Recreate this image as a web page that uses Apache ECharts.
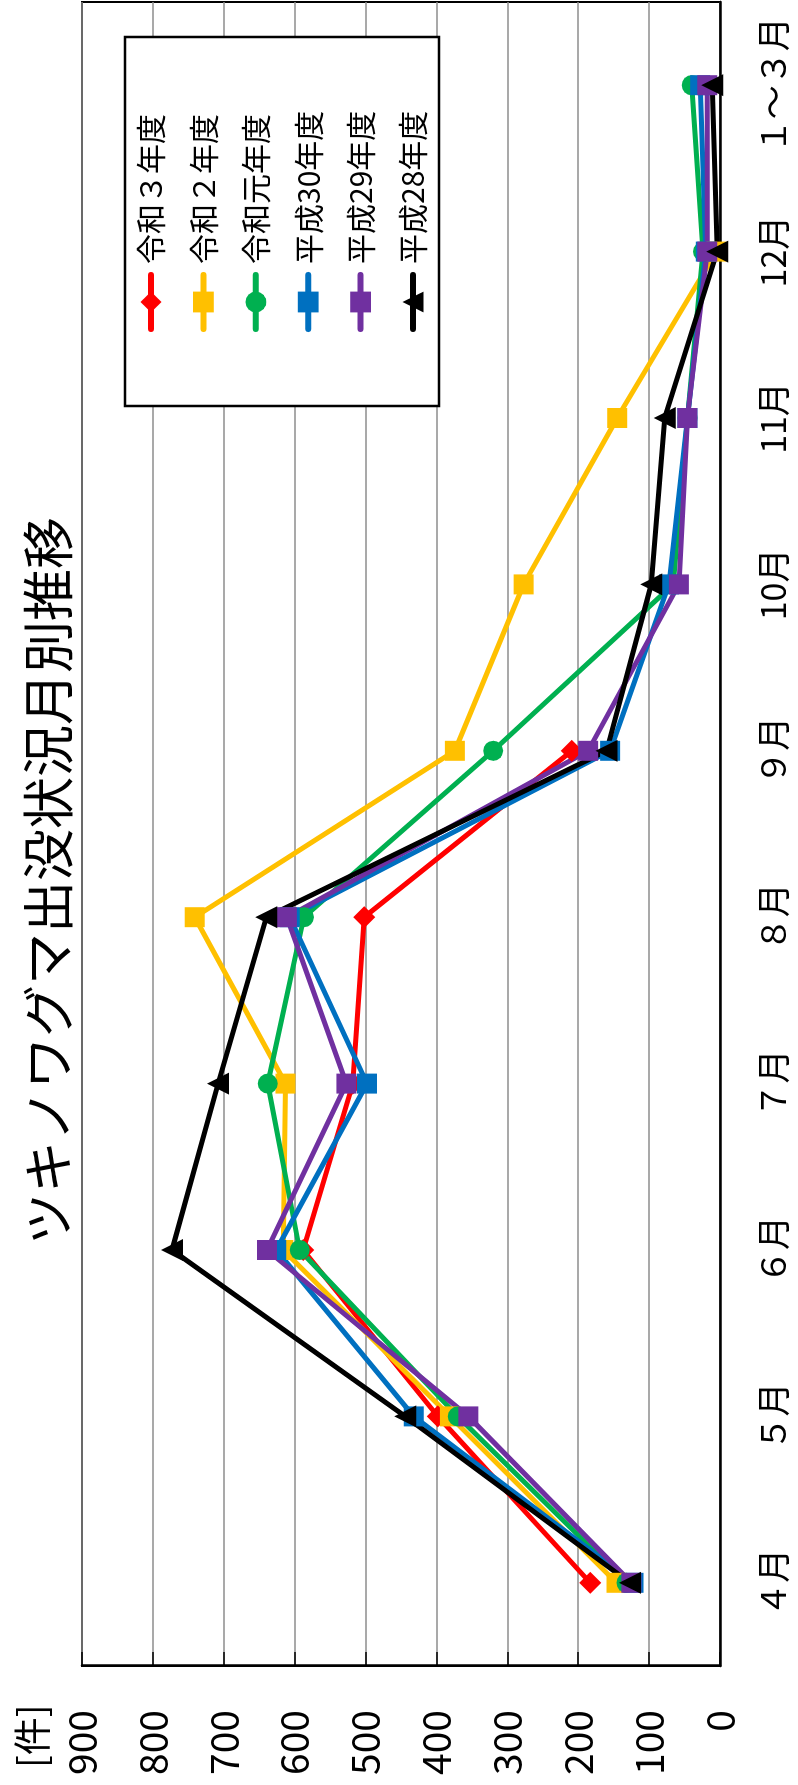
<!DOCTYPE html>
<html>
<head>
<meta charset="utf-8">
<script src="https://cdn.jsdelivr.net/npm/echarts@6/dist/echarts.min.js"></script>
<style>
  html, body { margin: 0; padding: 0; overflow: hidden; background: #fff; width: 798px; height: 1785px; }
  /* The chart is laid out landscape and turned a quarter turn to stand upright on the page. */
  #chart {
    position: absolute; left: 0; top: 1785px;
    width: 1785px; height: 798px;
    transform-origin: 0 0; transform: rotate(-90deg);
  }
</style>
</head>
<body>
<div id="chart"></div>
<script>
// Months of the fiscal year
const months = ['４月', '５月', '６月', '７月', '８月', '９月', '10月', '11月', '12月', '１～３月'];
// Series names
const seriesNames = ['令和３年度', '令和２年度', '令和元年度', '平成30年度', '平成29年度', '平成28年度'];
// Sightings per month [件]
const reiwa3   = [183, 398, 588, 518, 502, 209, null, null, null, null];
const reiwa2   = [146, 381, 616, 613, 741, 374, 277, 145, 5, null];
const reiwaGan = [132, 370, 593, 638, 587, 320, 66, 46, 24, 40];
const heisei30 = [122, 432, 626, 498, 607, 155, 72, 46, 20, 28];
const heisei29 = [125, 355, 639, 527, 611, 186, 58, 46, 18, 18];
const heisei28 = [127, 444, 773, 708, 640, 160, 97, 78, 4, 11];
// Value axis range
const axisMin = 0, axisMax = 900, axisStep = 100;

const FONT = '"Noto Sans CJK JP", "Noto Sans", sans-serif';
const colors = ['#FF0000', '#FFC000', '#00B050', '#0070C0', '#7030A0', '#000000'];
const symbols = ['diamond', 'rect', 'circle', 'rect', 'rect', 'triangle'];
const symbolSizes = [22, 20, 20, 20, 20, 22];
const allData = [reiwa3, reiwa2, reiwaGan, heisei30, heisei29, heisei28];

const chart = echarts.init(document.getElementById('chart'), null, { renderer: 'canvas' });

const series = seriesNames.map((name, i) => ({
  name,
  type: 'line',
  data: allData[i],
  symbol: symbols[i],
  symbolSize: symbolSizes[i],
  showAllSymbol: true,
  connectNulls: false,
  lineStyle: { color: colors[i], width: 5, cap: 'round', join: 'round' },
  itemStyle: { color: colors[i], borderWidth: 0 },
  emphasis: { disabled: true },
  animation: false
}));

chart.setOption({
  animation: false,
  backgroundColor: '#fff',
  textStyle: { fontFamily: FONT },
  grid: {
    left: 119, right: 2, top: 82, bottom: 78,
    show: true, borderColor: '#000', borderWidth: 2, backgroundColor: 'transparent'
  },
  xAxis: {
    type: 'category',
    data: months,
    boundaryGap: true,
    axisLine: { lineStyle: { color: '#000', width: 2.5 } },
    axisTick: { inside: true, length: 10, lineStyle: { color: '#000', width: 1.5 } },
    axisLabel: { color: '#000', fontSize: 34, fontFamily: FONT, margin: 36, interval: 0 },
    splitLine: { show: false }
  },
  yAxis: {
    type: 'value',
    min: axisMin, max: axisMax, interval: axisStep,
    axisLine: { show: true, lineStyle: { color: '#000', width: 2.5 } },
    axisTick: { show: true, inside: true, length: 14, lineStyle: { color: '#000', width: 1.5 } },
    axisLabel: { color: '#000', fontSize: 39, fontFamily: FONT, margin: 44 },
    splitLine: { show: true, lineStyle: { color: '#8c8c8c', width: 1.5 } }
  },
  legend: {
    orient: 'vertical',
    left: 1453, top: 136,
    padding: 0,
    itemGap: 22.4,
    itemWidth: 54, itemHeight: 26,
    selectedMode: false,
    data: seriesNames,
    lineStyle: { width: 6, cap: 'round' },
    textStyle: { fontSize: 30, lineHeight: 30, color: '#000', fontFamily: FONT, padding: [0, 0, 0, 6] },
    z: 5
  },
  graphic: [
    {
      type: 'rect', z: 3,
      shape: { x: 1379, y: 125, width: 369, height: 314 },
      style: { fill: '#fff', stroke: '#000', lineWidth: 2.5 }
    },
    {
      type: 'text', z: 5,
      x: 904, y: 48,
      style: {
        text: 'ツキノワグマ出没状況月別推移',
        font: '52px ' + FONT, fill: '#000',
        textAlign: 'center', textVerticalAlign: 'middle'
      }
    },
    {
      type: 'text', z: 5,
      x: 17, y: 32,
      style: {
        text: '[件]',
        font: '38px ' + FONT, fill: '#000',
        textAlign: 'left', textVerticalAlign: 'middle'
      }
    }
  ],
  series
});
</script>
</body>
</html>
